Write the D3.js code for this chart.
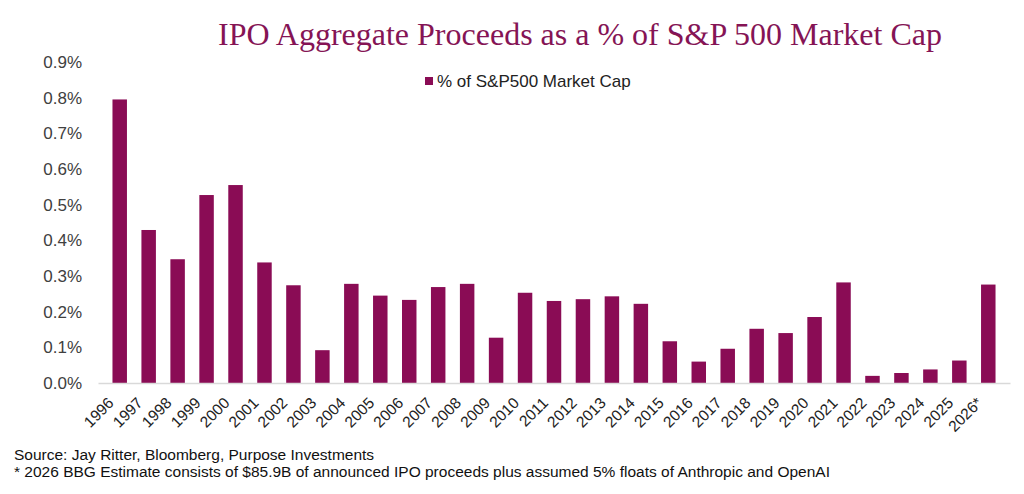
<!DOCTYPE html>
<html>
<head>
<meta charset="utf-8">
<script src="https://cdn.jsdelivr.net/npm/d3@7"></script>
<style>
  body { margin: 0; background: #fff; }
  svg { display: block; }
</style>
</head>
<body>
<div id="chart"></div>
<script>
const width = 1024;
const height = 494;

const years = [
  '1996', '1997', '1998', '1999', '2000', '2001', '2002', '2003', '2004', '2005',
  '2006', '2007', '2008', '2009', '2010', '2011', '2012', '2013', '2014', '2015',
  '2016', '2017', '2018', '2019', '2020', '2021', '2022', '2023', '2024', '2025', '2026*'
];

// % of S&P500 market cap
const pctOfCap = [
  0.795, 0.429, 0.347, 0.527, 0.555, 0.338, 0.274, 0.092, 0.278, 0.245,
  0.233, 0.269, 0.278, 0.127, 0.253, 0.230, 0.235, 0.243, 0.222, 0.117,
  0.060, 0.096, 0.152, 0.140, 0.185, 0.282, 0.020, 0.028, 0.038, 0.063, 0.276
];

const yTicks = [0, 0.1, 0.2, 0.3, 0.4, 0.5, 0.6, 0.7, 0.8, 0.9];

const barColor = '#8a0c55';

const svg = d3.select('#chart')
  .append('svg')
  .attr('width', width)
  .attr('height', height);

// escalas
const x = d3.scaleBand()
  .domain(years)
  .range([98, 1010])
  .padding(0.5);

const y = d3.scaleLinear()
  .domain([0, 0.9])
  .range([383, 62]);

// titulo
svg.append('text')
  .attr('x', 580)
  .attr('y', 45)
  .attr('text-anchor', 'middle')
  .attr('font-family', 'Liberation Serif, Georgia, serif')
  .attr('font-size', 32)
  .attr('fill', '#851455')
  .text('IPO Aggregate Proceeds as a % of S&P 500 Market Cap');

// eje y
const yAxis = d3.axisLeft(y)
  .tickValues(yTicks)
  .tickSize(0)
  .tickPadding(0)
  .tickFormat(d => d.toFixed(1) + '%');

svg.append('g')
  .attr('transform', 'translate(82, 0)')
  .call(yAxis)
  .call(g => g.select('.domain').remove())
  .selectAll('text')
  .attr('font-family', 'Liberation Sans, Arial, sans-serif')
  .attr('font-size', 17)
  .attr('fill', '#404040');

// barras
svg.selectAll('rect.bar')
  .data(pctOfCap)
  .enter()
  .append('rect')
  .attr('class', 'bar')
  .attr('x', (d, i) => x(years[i]))
  .attr('y', d => y(d))
  .attr('width', x.bandwidth())
  .attr('height', d => y(0) - y(d))
  .attr('fill', barColor);

// eje x
const xAxis = d3.axisBottom(x)
  .tickSize(0)
  .tickPadding(0);

svg.append('g')
  .attr('transform', `translate(0, ${y(0)})`)
  .call(xAxis)
  .call(g => g.select('.domain').attr('stroke', '#d9d9d9').attr('stroke-width', 1.5))
  .selectAll('text')
  .attr('font-family', 'Liberation Sans, Arial, sans-serif')
  .attr('font-size', 15.5)
  .attr('fill', '#222')
  .attr('text-anchor', 'end')
  .attr('dy', null)
  .attr('y', null)
  .attr('transform', 'translate(-5, 21) rotate(-45)');

// leyenda
const legend = svg.append('g')
  .attr('transform', 'translate(425, 81)');

legend.append('rect')
  .attr('x', 0)
  .attr('y', -4)
  .attr('width', 8)
  .attr('height', 8)
  .attr('fill', barColor);

legend.append('text')
  .attr('x', 12)
  .attr('y', 6)
  .attr('font-family', 'Liberation Sans, Arial, sans-serif')
  .attr('font-size', 17)
  .attr('fill', '#222')
  .text('% of S&P500 Market Cap');

// notas
const notes = [
  'Source: Jay Ritter, Bloomberg, Purpose Investments',
  '* 2026 BBG Estimate consists of $85.9B of announced IPO proceeds plus assumed 5% floats of Anthropic and OpenAI'
];

svg.selectAll('text.note')
  .data(notes)
  .enter()
  .append('text')
  .attr('class', 'note')
  .attr('x', 14)
  .attr('y', (d, i) => 460 + i * 17)
  .attr('font-family', 'Liberation Sans, Arial, sans-serif')
  .attr('font-size', 15.5)
  .attr('fill', '#111')
  .text(d => d);
</script>
</body>
</html>
